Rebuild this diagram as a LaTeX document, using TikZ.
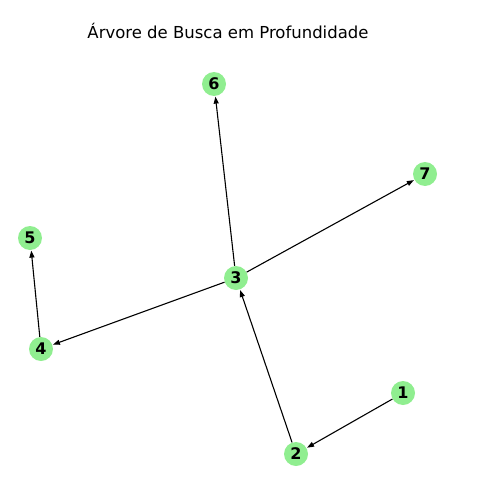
\documentclass[tikz,border=0pt]{standalone}
\usepackage{fontspec}
\setmainfont{DejaVu Sans}
\usetikzlibrary{arrows.meta}
\definecolor{lgreen}{HTML}{90EE90}
\begin{document}
\begin{tikzpicture}[x=1pt,y=-1pt,
  vert/.style={circle,fill=lgreen,minimum size=24pt,inner sep=0pt,font=\fontsize{16}{16}\selectfont\bfseries},
  edge/.style={-{Stealth[length=7pt,width=5pt,inset=0pt]},line width=1.1pt,shorten >=0.5pt}]
\useasboundingbox (0,0) rectangle (497,484);
\node[font=\fontsize{16.5}{18}\selectfont] (title) at (228,31) {Árvore de Busca em Profundidade};
\node[vert] (n6) at (214,84) {6};
\node[vert] (n7) at (425,174) {7};
\node[vert] (n5) at (30,238) {5};
\node[vert] (n3) at (236,278) {3};
\node[vert] (n4) at (41,349) {4};
\node[vert] (n1) at (403,393) {1};
\node[vert] (n2) at (296,454) {2};
\draw[edge] (n3) -- (n6);
\draw[edge] (n3) -- (n7);
\draw[edge] (n3) -- (n4);
\draw[edge] (n4) -- (n5);
\draw[edge] (n2) -- (n3);
\draw[edge] (n1) -- (n2);
\end{tikzpicture}
\end{document}
